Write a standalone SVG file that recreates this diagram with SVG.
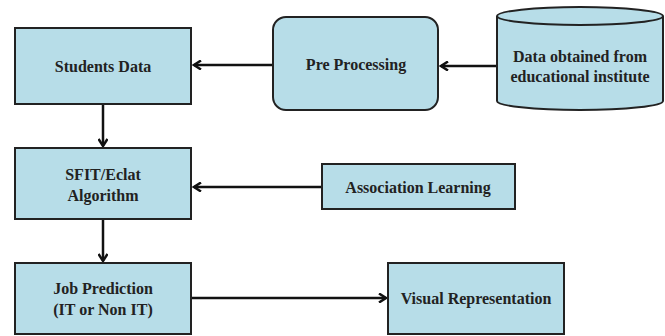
<svg xmlns="http://www.w3.org/2000/svg" width="665" height="336" viewBox="0 0 665 336">
<style>
.box{fill:#b7dde8;stroke:#222;stroke-width:2}
.t{font-family:"Liberation Serif","Times New Roman",serif;font-weight:bold;font-size:16px;fill:#222;text-anchor:middle}
.c{stroke:#111;stroke-width:2.5;fill:none;marker-end:url(#a)}
</style>
<defs>
<marker id="a" markerWidth="10" markerHeight="10" refX="8" refY="5" orient="auto" markerUnits="userSpaceOnUse">
<polyline points="1,0.5 8,5 1,9.5" fill="none" stroke="#111" stroke-width="2.5"/>
</marker>
</defs>
<rect width="665" height="336" fill="#fff"/>
<g id="connectors">
<line class="c" x1="273" y1="65" x2="194" y2="65"/>
<line class="c" x1="496" y1="66" x2="441" y2="66"/>
<line class="c" x1="103" y1="104" x2="103" y2="146"/>
<line class="c" x1="322" y1="187" x2="194" y2="187"/>
<line class="c" x1="103" y1="219" x2="103" y2="261"/>
<line class="c" x1="191" y1="298" x2="386" y2="298"/>
</g>
<g id="students">
<rect class="box" x="15" y="28" width="176" height="76"/>
<text class="t" x="103" y="72">Students Data</text>
</g>
<g id="preprocessing">
<rect class="box" x="273" y="17" width="165" height="93" rx="13"/>
<text class="t" x="356" y="70">Pre Processing</text>
</g>
<g id="data">
<path class="box" d="M497,16 L497,101 A83,9 0 0 0 663,101 L663,16"/>
<ellipse class="box" cx="580" cy="16" rx="83" ry="9"/>
<text class="t" x="580" y="62">Data obtained from</text>
<text class="t" x="580" y="82">educational institute</text>
</g>
<g id="sfit">
<rect class="box" x="15" y="148" width="176" height="71"/>
<text class="t" x="103" y="180">SFIT/Eclat</text>
<text class="t" x="103" y="201">Algorithm</text>
</g>
<g id="association">
<rect class="box" x="322" y="164" width="193" height="45"/>
<text class="t" x="418" y="193">Association Learning</text>
</g>
<g id="job">
<rect class="box" x="15" y="263" width="176" height="71"/>
<text class="t" x="103" y="294">Job Prediction</text>
<text class="t" x="103" y="315">(IT or Non IT)</text>
</g>
<g id="visual">
<rect class="box" x="388" y="263" width="176" height="71"/>
<text class="t" x="476" y="304">Visual Representation</text>
</g>
</svg>
